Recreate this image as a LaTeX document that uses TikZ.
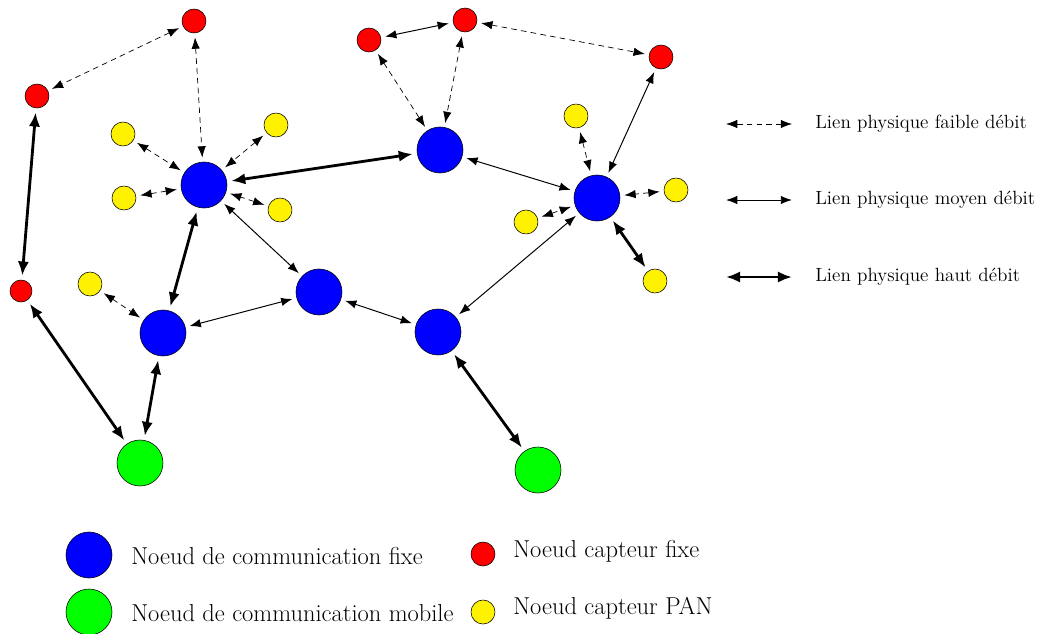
\documentclass[tikz,border=0pt]{standalone}
\usetikzlibrary{arrows.meta}
\begin{document}
\begin{tikzpicture}[x=0.025cm,y=-0.025cm,
  noeud/.style={circle,draw=black,line width=0.4pt,inner sep=0pt},
  fixe/.style={noeud,fill=blue,minimum size=1.15cm},
  mobile/.style={noeud,fill=green,minimum size=1.15cm},
  capt/.style={noeud,fill=red,minimum size=0.6cm},
  pan/.style={noeud,fill=yellow,minimum size=0.6cm},
  faible/.style={{Latex[length=8pt,width=6pt]}-{Latex[length=8pt,width=6pt]},line width=0.5pt,dash pattern=on 4pt off 3pt,shorten <=3pt,shorten >=3pt},
  moyen/.style={{Latex[length=8pt,width=6pt]}-{Latex[length=8pt,width=6pt]},line width=0.7pt,shorten <=3pt,shorten >=3pt},
  haut/.style={{Latex[length=10pt,width=8pt]}-{Latex[length=10pt,width=8pt]},line width=2pt,shorten <=3pt,shorten >=3pt},
  legende/.style={anchor=west,inner sep=0pt,font=\fontsize{17.4}{20}\selectfont},
  lien/.style={anchor=west,inner sep=0pt,font=\fontsize{13.6}{16}\selectfont}]
\useasboundingbox (0,0) rectangle (1039,633);
% noeuds de communication
\node[fixe] (f1) at (204,185) {};
\node[fixe] (f2) at (440,150) {};
\node[fixe] (f3) at (597,198) {};
\node[fixe] (f4) at (319,292) {};
\node[fixe] (f5) at (163,333) {};
\node[fixe] (f6) at (438,332) {};
\node[mobile] (m1) at (140,463) {};
\node[mobile] (m2) at (538,470) {};
% capteurs fixes
\node[capt] (c1) at (194,21) {};
\node[capt] (c2) at (37,96) {};
\node[capt,minimum size=0.55cm] (c3) at (21,291) {};
\node[capt] (c4) at (369,40) {};
\node[capt] (c5) at (465,20) {};
\node[capt] (c6) at (661,57) {};
% capteurs PAN
\node[pan] (p1) at (123,134) {};
\node[pan] (p2) at (276,125) {};
\node[pan] (p3) at (124,198) {};
\node[pan] (p4) at (280,210) {};
\node[pan] (p5) at (90,284) {};
\node[pan] (p6) at (576,116) {};
\node[pan] (p7) at (676,190) {};
\node[pan] (p8) at (526,222) {};
\node[pan] (p9) at (655,281) {};
% liens
\foreach \a/\b in {c1/c2,c1/f1,p1/f1,p2/f1,p3/f1,p4/f1,c4/f2,c5/f2,c5/c6,p5/f5,p6/f3,p7/f3,p8/f3}
  \draw[faible] (\a) -- (\b);
\foreach \a/\b in {c4/c5,f1/f4,f2/f3,c6/f3,f4/f5,f4/f6,f6/f3}
  \draw[moyen] (\a) -- (\b);
\foreach \a/\b in {c2/c3,f1/f2,f1/f5,c3/m1,f5/m1,f6/m2,f3/p9}
  \draw[haut] (\a) -- (\b);
% legende des liens
\coordinate (l1a) at (726,124); \coordinate (l1b) at (792,124);
\coordinate (l2a) at (726,200); \coordinate (l2b) at (792,200);
\coordinate (l3a) at (726,277); \coordinate (l3b) at (792,277);
\draw[faible,shorten <=0pt,shorten >=0pt] (l1a) -- (l1b);
\draw[moyen,shorten <=0pt,shorten >=0pt] (l2a) -- (l2b);
\draw[haut,shorten <=0pt,shorten >=0pt] (l3a) -- (l3b);
\node[lien] (t1) at (815,124) {Lien physique faible débit};
\node[lien] (t2) at (815,200) {Lien physique moyen débit};
\node[lien] (t3) at (815,277) {Lien physique haut débit};
% legende des noeuds
\node[fixe] (lf) at (89,555) {};
\node[mobile] (lm) at (89,612) {};
\node[capt] (lc) at (483,554) {};
\node[pan] (lp) at (483,612) {};
\node[legende] at (131,556) {Noeud de communication fixe};
\node[legende] at (131,613) {Noeud de communication mobile};
\node[legende] at (513,551) {Noeud capteur fixe};
\node[legende] at (513,608) {Noeud capteur PAN};
\end{tikzpicture}
\end{document}
